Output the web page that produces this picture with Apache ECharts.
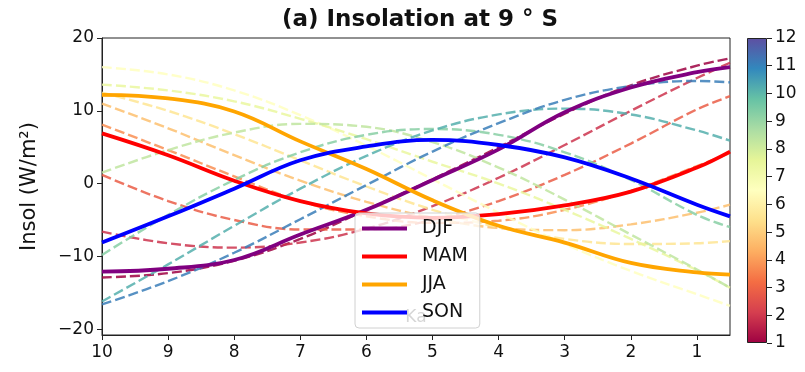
<!DOCTYPE html>
<html>
<head>
<meta charset="utf-8">
<title>Insolation at 9°S</title>
<script src="https://cdn.jsdelivr.net/npm/echarts@6/dist/echarts.min.js"></script>
<style>
    html, body { margin: 0; padding: 0; background: #fff; }
    #chart1 { width: 805px; height: 372px; }
</style>
</head>
<body>
<div id="chart1"></div>
<script>
// time axis (ka), read at each integer tick plus the right edge
let ka = [10, 9, 8, 7, 6, 5, 4, 3, 2, 1, 0.5];

// monthly anomalies (dashed lines), W/m2
let jan = [-12.9, -12.3, -10.6, -7.6, -3.6, 0.6, 5.0, 9.6, 13.5, 16.2, 17.2];
let feb = [-6.6, -8.2, -8.8, -8.1, -6.2, -3.1, 0.8, 5.3, 10.0, 14.5, 16.6];
let mar = [1.2, -2.4, -5.0, -6.3, -6.3, -5.0, -2.4, 1.2, 5.5, 10.2, 12.0];
let apr = [8.1, 4.6, 1.0, -2.4, -4.5, -5.4, -5.1, -3.6, -1.0, 2.4, 4.2];
let may = [11.0, 7.6, 3.9, 0.4, -2.5, -4.7, -6.1, -6.4, -5.6, -4.0, -2.9];
let jun = [12.5, 10.0, 6.8, 3.2, -0.4, -3.6, -6.0, -7.6, -8.3, -8.2, -7.9];
let jul = [16.0, 15.0, 12.8, 9.4, 5.2, 0.6, -4.0, -8.3, -12.0, -15.2, -16.8];
let aug = [13.6, 12.8, 11.3, 8.9, 6.1, 3.0, 0.0, -3.6, -7.6, -11.9, -14.3];
let sep = [1.5, 4.6, 7.0, 8.2, 7.8, 5.7, 2.2, -2.2, -7.0, -11.8, -14.3];
let oct = [-9.8, -4.3, 0.5, 4.3, 6.7, 7.5, 6.7, 4.3, 0.5, -4.3, -6.0];
let nov = [-16.2, -11.1, -5.8, -0.7, 3.8, 7.3, 9.5, 10.3, 9.5, 7.3, 5.9];
let dec = [-16.6, -13.4, -9.5, -4.9, -0.2, 4.4, 8.3, 11.5, 13.4, 14.1, 13.9];

// seasonal means (solid lines)
let djf = [-12.1, -11.7, -10.5, -7.0, -3.6, 0.5, 4.7, 9.8, 13.2, 15.3, 16.0];
let mam = [6.9, 3.9, 0.4, -2.4, -4.1, -4.7, -4.2, -3.0, -1.1, 2.2, 4.4];
let jja = [12.2, 11.7, 9.9, 5.8, 2.0, -2.3, -5.8, -8.1, -10.9, -12.2, -12.5];
let son = [-8.1, -4.5, -0.7, 3.2, 5.1, 6.0, 5.3, 3.6, 0.7, -2.9, -4.5];

let xTicks = [10, 9, 8, 7, 6, 5, 4, 3, 2, 1];
let yTicks = [-20, -10, 0, 10, 20];
let cbTicks = [1, 2, 3, 4, 5, 6, 7, 8, 9, 10, 11, 12];

(function () {
    let chart = echarts.init(document.querySelector("#chart1"));
    let font = "DejaVu Sans";

    let monthly = [jan, feb, mar, apr, may, jun, jul, aug, sep, oct, nov, dec];
    // Spectral colormap, one step per month
    let monthColor = ["#9e0142", "#cc344d", "#ea5d47", "#f98e52", "#fdbf6f", "#fee593",
                      "#ffffbf", "#eaf79f", "#bfe5a0", "#88cfa4", "#55afad", "#3a7eb9"];
    let seasons = [
        { name: "DJF", data: djf, color: "#800080" },
        { name: "MAM", data: mam, color: "#ff0000" },
        { name: "JJA", data: jja, color: "#ffa500" },
        { name: "SON", data: son, color: "#0000ff" }
    ];

    function pairs(vals) {
        return ka.map(function (k, i) { return [k, vals[i]]; });
    }

    // matplotlib style minus sign
    function minus(v) {
        return String(v).replace("-", "\u2212");
    }

    let series = [];
    monthly.forEach(function (vals, i) {
        series.push({
            name: "m" + (i + 1),
            type: "line",
            data: pairs(vals),
            smooth: 0.4,
            showSymbol: false,
            silent: true,
            lineStyle: {
                color: monthColor[i],
                width: 2.4,
                type: [10, 4],
                opacity: 0.85
            }
        });
    });
    seasons.forEach(function (s) {
        series.push({
            name: s.name,
            type: "line",
            data: pairs(s.data),
            smooth: 0.4,
            showSymbol: false,
            itemStyle: { color: s.color },
            lineStyle: { color: s.color, width: 3.8 }
        });
    });

    // colorbar: transparent base up to 1, gradient from 1 to 12
    series.push({
        type: "bar",
        xAxisIndex: 1,
        yAxisIndex: 1,
        stack: "cb",
        silent: true,
        barWidth: "100%",
        data: [1],
        itemStyle: { color: "transparent" }
    });
    series.push({
        type: "bar",
        xAxisIndex: 1,
        yAxisIndex: 1,
        stack: "cb",
        silent: true,
        barWidth: "100%",
        data: [11],
        itemStyle: {
            borderColor: "#222",
            borderWidth: 1,
            color: new echarts.graphic.LinearGradient(0, 0, 0, 1, [
                { offset: 0, color: "#5e4fa2" },
                { offset: 0.1, color: "#3288bd" },
                { offset: 0.2, color: "#66c2a5" },
                { offset: 0.3, color: "#abdda4" },
                { offset: 0.4, color: "#e6f598" },
                { offset: 0.5, color: "#ffffbf" },
                { offset: 0.6, color: "#fee08b" },
                { offset: 0.7, color: "#fdae61" },
                { offset: 0.8, color: "#f46d43" },
                { offset: 0.9, color: "#d53e4f" },
                { offset: 1, color: "#9e0142" }
            ])
        }
    });

    let option = {
        animation: false,
        textStyle: { fontFamily: font },
        title: {
            text: "(a) Insolation at 9 ° S",
            left: 415,
            top: 4,
            textAlign: "center",
            textStyle: { fontFamily: font, fontSize: 23, fontWeight: "bold", color: "#111" }
        },
        legend: {
            data: ["DJF", "MAM", "JJA", "SON"],
            orient: "vertical",
            left: 355,
            top: 213,
            padding: [6, 12, 6, 7],
            itemGap: 9,
            itemWidth: 45,
            itemHeight: 4,
            icon: "rect",
            backgroundColor: "rgba(255,255,255,0.78)",
            borderColor: "#d0d0d0",
            borderWidth: 1,
            borderRadius: 4,
            textStyle: { fontFamily: font, fontSize: 19, color: "#111", padding: [0, 0, 0, 10] }
        },
        grid: [
            { left: 102, right: 75, top: 38, bottom: 37, show: true, borderColor: "#222", borderWidth: 1, outerBoundsMode: "none" },
            { left: 747, width: 20, top: 38, height: 305, outerBoundsMode: "none" }
        ],
        xAxis: [
            {
                gridIndex: 0,
                type: "value",
                inverse: true,
                min: 0.5,
                max: 10,
                name: "Ka",
                nameLocation: "middle",
                nameGap: -26,
                nameMoveOverlap: false,
                nameTextStyle: { fontFamily: font, fontSize: 17, color: "#444" },
                axisLine: { show: true, onZero: false, lineStyle: { color: "#222" } },
                axisTick: { show: true, length: 5, customValues: xTicks, lineStyle: { color: "#222" } },
                axisLabel: { customValues: xTicks, fontSize: 17, color: "#111", margin: 9 },
                splitLine: { show: false }
            },
            {
                gridIndex: 1,
                type: "category",
                data: ["cb"],
                show: false
            }
        ],
        yAxis: [
            {
                gridIndex: 0,
                type: "value",
                min: -20.8,
                max: 20,
                name: "Insol (W/m²)",
                nameLocation: "middle",
                nameGap: 62,
                nameMoveOverlap: false,
                nameTextStyle: { fontFamily: font, fontSize: 21, color: "#111" },
                axisLine: { show: true, onZero: false, lineStyle: { color: "#222" } },
                axisTick: { show: true, length: 5, customValues: yTicks, lineStyle: { color: "#222" } },
                axisLabel: { customValues: yTicks, fontSize: 17, color: "#111", margin: 8, formatter: minus },
                splitLine: { show: false }
            },
            {
                gridIndex: 1,
                type: "value",
                position: "right",
                min: 1,
                max: 12,
                interval: 1,
                axisLine: { show: false },
                axisTick: { show: true, length: 5, customValues: cbTicks, lineStyle: { color: "#222" } },
                axisLabel: { customValues: cbTicks, fontSize: 17, color: "#111", margin: 8 },
                splitLine: { show: false }
            }
        ],
        series: series
    };

    chart.setOption(option);

    window.addEventListener('resize', function () { chart.resize(); });
})();
</script>
</body>
</html>
